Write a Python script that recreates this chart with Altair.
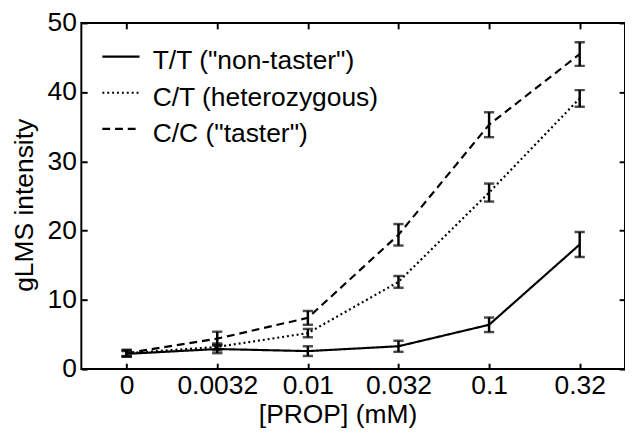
import json
import altair as alt
import pandas as pd

conc_labels = ["0", "0.0032", "0.01", "0.032", "0.1", "0.32"]
genotypes = ['T/T ("non-taster")', 'C/T (heterozygous)', 'C/C ("taster")']
y_ticks = [0, 10, 20, 30, 40, 50]

tt_mean = [2.2, 2.9, 2.6, 3.3, 6.4, 18.0]
tt_err = [0.4, 0.6, 0.7, 0.8, 1.05, 1.8]
ct_mean = [2.3, 3.2, 5.2, 12.6, 25.5, 39.1]
ct_err = [0.4, 0.5, 0.6, 0.85, 1.3, 1.2]
cc_mean = [2.3, 4.4, 7.4, 19.4, 35.3, 45.5]
cc_err = [0.5, 1.0, 1.0, 1.55, 1.8, 1.7]

rows = []
for g, means, errs in zip(genotypes, [tt_mean, ct_mean, cc_mean], [tt_err, ct_err, cc_err]):
    for i, (m, e) in enumerate(zip(means, errs)):
        rows.append({"idx": i, "genotype": g, "mean": m, "lo": m - e, "hi": m + e})
df = pd.DataFrame(rows)

FONT = "Liberation Sans"
FS = 27
label_expr = json.dumps(conc_labels) + "[datum.value]"
x_idx = list(range(len(conc_labels)))

x_scale = alt.Scale(domain=[-0.5, 5.5], nice=False, zero=False)
y_scale = alt.Scale(domain=[0, 50], nice=False)

tick_common = dict(offset=-6, tickSize=6, tickWidth=2, tickColor="black",
                   domain=False, grid=False)

x_bottom = alt.Axis(orient="bottom", values=x_idx, labelExpr=label_expr,
                    labelPadding=3.5, labelFontSize=FS, labelFont=FONT,
                    labelColor="black", labelFlush=False, labelOverlap=False,
                    title="[PROP] (mM)", titleFontSize=FS, titleFont=FONT,
                    titleFontWeight="normal", titleColor="black",
                    titleX=262, titleY=60.5, titleBaseline="alphabetic",
                    titleAlign="center", **tick_common)
x_top = alt.Axis(orient="top", values=x_idx, labels=False, title=None, **tick_common)

y_left = alt.Axis(orient="left", values=y_ticks, labelPadding=5,
                  labelFontSize=FS, labelFont=FONT, labelColor="black",
                  labelFlush=False, labelOverlap=False,
                  title="gLMS intensity", titleFontSize=FS, titleFont=FONT,
                  titleFontWeight="normal", titleColor="black",
                  titleX=-50, titleY=186, titleAngle=270,
                  titleBaseline="bottom", titleAlign="center", **tick_common)
y_right = alt.Axis(orient="right", values=y_ticks, labels=False, title=None, **tick_common)

line = alt.Chart(df).mark_line(color="black", strokeWidth=2.2, strokeCap="butt").encode(
    x=alt.X("idx:Q", scale=x_scale, axis=x_bottom),
    y=alt.Y("mean:Q", scale=y_scale, axis=y_left),
    strokeDash=alt.StrokeDash(
        "genotype:N",
        scale=alt.Scale(domain=genotypes, range=[[1, 0], [2, 3], [8, 5]]),
        legend=alt.Legend(title=None, orient="none", legendX=20, legendY=19,
                          symbolType="M-1,-0.27H1", symbolSize=1444,
                          symbolStrokeWidth=2.2, symbolStrokeColor="black",
                          symbolFillColor="transparent",
                          labelFontSize=FS, labelFont=FONT, labelColor="black",
                          labelOffset=12, rowPadding=3, padding=0, labelLimit=400),
    ),
)

rules = alt.Chart(df).mark_rule(color="black", strokeWidth=2.5).encode(
    x=alt.X("idx:Q", scale=x_scale, axis=x_top),
    y=alt.Y("lo:Q", scale=y_scale, axis=y_right),
    y2="hi:Q",
)

caps_lo = alt.Chart(df).mark_tick(color="black", orient="horizontal", size=10.5, thickness=2.5).encode(
    x=alt.X("idx:Q", scale=x_scale, axis=None),
    y=alt.Y("lo:Q", scale=y_scale, axis=None),
)
caps_hi = alt.Chart(df).mark_tick(color="black", orient="horizontal", size=10.5, thickness=2.5).encode(
    x=alt.X("idx:Q", scale=x_scale, axis=None),
    y=alt.Y("hi:Q", scale=y_scale, axis=None),
)

chart = (
    alt.layer(line, rules, caps_lo, caps_hi)
    .resolve_axis(x="independent", y="independent")
    .properties(width=556, height=354,
                autosize=alt.AutoSizeParams(type="none"),
                padding={"left": 75, "top": 10.5, "right": 0, "bottom": 58},
                background="white")
    .configure_view(stroke="black", strokeWidth=2)
)

chart.save("out.html", embed_options={"renderer": "svg", "actions": False})
